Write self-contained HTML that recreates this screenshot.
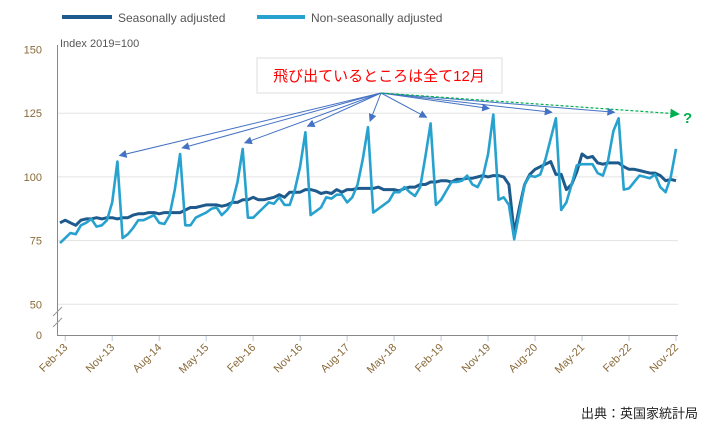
<!DOCTYPE html>
<html><head><meta charset="utf-8"><style>
body{margin:0;background:#fff;}
svg text{font-family:"Liberation Sans","Noto Sans CJK JP",sans-serif;}
</style></head><body>
<svg id="chart" width="709" height="430" xmlns="http://www.w3.org/2000/svg">
<defs>
<marker id="ab" viewBox="0 0 10 10" refX="9" refY="5" markerWidth="8" markerHeight="8" orient="auto"><path d="M0,0L10,5L0,10z" fill="#4472c4"/></marker>
<marker id="ag" viewBox="0 0 10 10" refX="9" refY="5" markerWidth="8" markerHeight="8" orient="auto"><path d="M0,0L10,5L0,10z" fill="#00b050"/></marker>
</defs>
<g>
<line x1="62" y1="17" x2="112" y2="17" stroke="#1f5a8c" stroke-width="4"/>
<text x="118" y="22" font-size="12" fill="#555">Seasonally adjusted</text>
<line x1="257" y1="17" x2="305" y2="17" stroke="#27a2cf" stroke-width="4"/>
<text x="311" y="22" font-size="12" fill="#555">Non-seasonally adjusted</text>
</g>
<text x="60" y="47" font-size="11" fill="#555">Index 2019=100</text>
<g id="grid"></g>
<g id="axes"></g>
<g id="series"></g>
<g>
<rect x="257" y="58" width="245" height="35" fill="#fff" stroke="#ddd"/>
<text x="379" y="81" font-size="15" fill="#ff0000" text-anchor="middle">飛び出ているところは全て12月</text>
<g id="arrows" stroke="#4472c4" stroke-width="1" fill="none"></g>
<line x1="381" y1="93" x2="679" y2="114" stroke="#00b050" stroke-width="1.2" stroke-dasharray="3,2" marker-end="url(#ag)"/>
<text x="683" y="123" font-size="15" font-weight="bold" fill="#00b050">?</text>
</g>
<text x="698" y="418" font-size="13" fill="#222" text-anchor="end">出典：英国家統計局</text>
</svg>
<script>
const yTicks=[50,75,100,125,150];
const xTickLabels=["Feb-13","Nov-13","Aug-14","May-15","Feb-16","Nov-16","Aug-17","May-18","Feb-19","Nov-19","Aug-20","May-21","Feb-22","Nov-22"];
const xTickIndex=[1,10,19,28,37,46,55,64,73,82,91,100,109,118];
const nsaValues=[74,76,78,77.5,81,82,83.5,80.5,81,83,90,106,
76,77.5,80,83,83,84,85,82,81.5,85,95,109,
81,81,84,85,86,87.5,88,85,87,90,98,111,
84,84,86,88,90,89.5,92,89,89,95,104,117.5,
85,86.5,88,92,91.5,93,93,90,92,97,107,119.5,
86,87.5,89,90.5,94,94,96,94,92.5,96,108,121,
89,91,94.5,98,98,98.5,100.5,97,96,100,109,124.5,
91,92,89,75.5,86,97,100.5,100,101,107,115,123,
87,90,97,104.5,105,105,105,101.5,100.5,106.5,118,123,
95,95.5,98,100.5,100,99.5,101,96,94,100,111];
const saValues=[82,83,82,81,83,83.5,83.5,84,83.5,84,84,83.5,
84,84,85,85.5,85.5,86,86,85.5,86,86,86,86,
87,88,88,88.5,89,89,89,88.5,89,90,90,91,
91,92,91,91,91.5,92,93,92,94,94,94,95,
95,94.5,93.5,94,93.5,95,94,95,95,95.5,95.5,95.5,
95.5,96,95,95,95,94.5,95.5,96,96,97,97,98,
98,98.5,98.5,98,99,99,99.5,99.5,100,100.5,100,100.5,
100.5,100,97,78,88,97,101,103,104,105,106,101,
101,95,97,102,109,107.5,108,105.5,105,105.5,105.5,105.5,
104,103,103,102.5,102,101.5,101.5,100.5,98.5,99,98.5];
const peakIndex=[11,23,35,47,59,71,83,95,107];

const NS="http://www.w3.org/2000/svg";
function x(i){return 60+i*(616/118);}
function y(v){return v<50?335-(v/50)*31:304.3-(v-50)*(63.7/25);}
function mk(tag,attrs,parent){const e=document.createElementNS(NS,tag);for(const k in attrs)e.setAttribute(k,attrs[k]);parent.appendChild(e);return e;}
const grid=document.getElementById('grid'),axes=document.getElementById('axes'),series=document.getElementById('series'),arrows=document.getElementById('arrows');
yTicks.forEach(v=>{
  if(v<150){const l=mk('line',{x1:57,x2:678,y1:y(v),y2:y(v),stroke:'#e3e3e3','stroke-width':1},grid);
  
  }
  const t=mk('text',{x:42,y:y(v)+4,'font-size':11,fill:'#8a6a3a','text-anchor':'end'},axes);t.textContent=v;
  
  
});
const t0=mk('text',{x:42,y:339,'font-size':11,fill:'#8a6a3a','text-anchor':'end'},axes);t0.textContent='0';


const ya=mk('line',{x1:57.5,x2:57.5,y1:45,y2:335,stroke:'#888','stroke-width':1},axes);


const xa=mk('line',{x1:57,x2:678,y1:335.5,y2:335.5,stroke:'#888','stroke-width':1},axes);


const br=mk('path',{d:'M53,316L62,307M53,327L62,318',stroke:'#999','stroke-width':1,fill:'none'},axes);


xTickLabels.forEach((lab,k)=>{
  const xx=x(xTickIndex[k]);
  const tk=mk('line',{x1:xx,x2:xx,y1:336,y2:341,stroke:'#b8c7dc'},axes);
  
  
  const t=mk('text',{x:xx+3,y:348,'font-size':11,fill:'#8a6a3a','text-anchor':'end',transform:`rotate(-45 ${xx+3} 348)`},axes);t.textContent=lab;
  
  
});
function path(vals){return vals.map((v,i)=>(i?'L':'M')+x(i).toFixed(1)+','+y(v).toFixed(1)).join('');}
const sa=mk('path',{d:path(saValues),stroke:'#1f5a8c','stroke-width':3,fill:'none','stroke-linejoin':'round'},series);


const nsa=mk('path',{d:path(nsaValues),stroke:'#27a2cf','stroke-width':2.6,fill:'none','stroke-linejoin':'round'},series);


peakIndex.forEach((pi,k)=>{
  const tx=x(pi)+(pi<60?2:(pi===59?4:-4)),ty=y(nsaValues[pi])-6;
  const a=mk('line',{x1:381,y1:93,x2:tx,y2:ty,'marker-end':'url(#ab)'},arrows);
  
  
});
</script>
</body></html>
